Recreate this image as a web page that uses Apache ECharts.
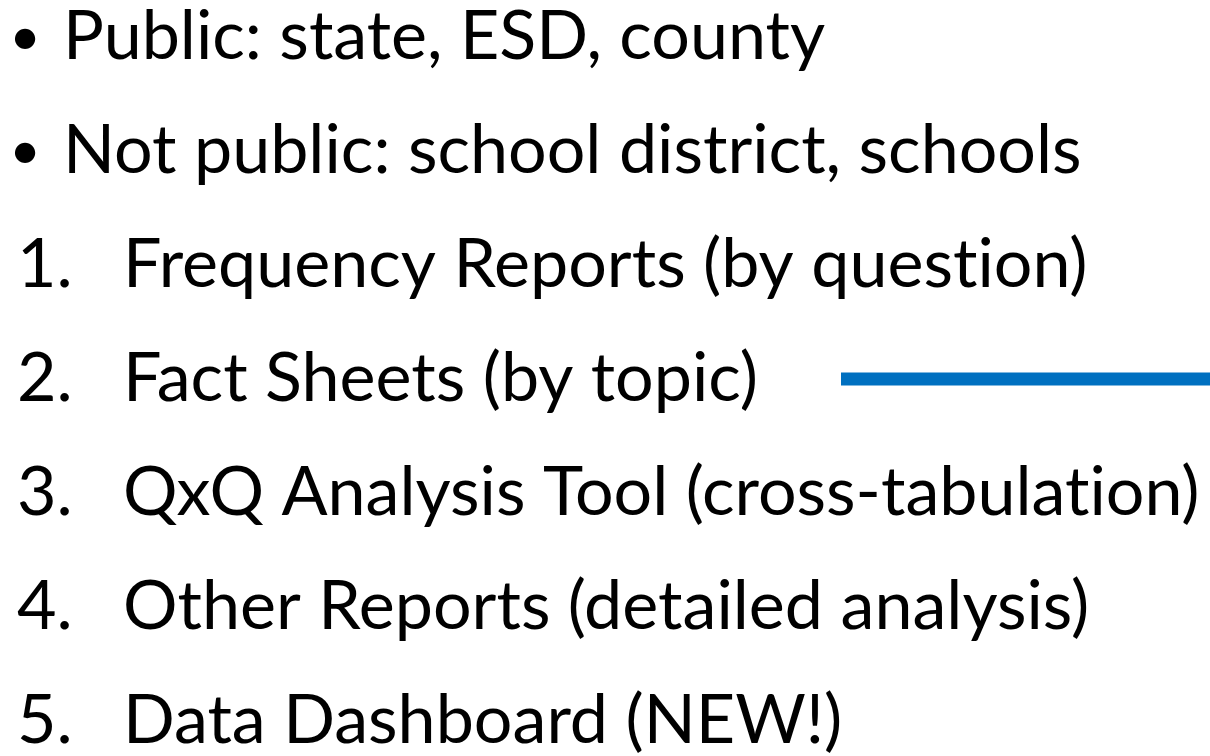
<!DOCTYPE html>
<html>
<head>
<meta charset="utf-8">
<script src="https://cdn.jsdelivr.net/npm/echarts@6/dist/echarts.min.js"></script>
<style>
  html, body { margin: 0; padding: 0; background: #fff; }
  #slide { width: 1210px; height: 756px; }
</style>
</head>
<body>
<div id="slide"></div>
<script>
// slide content
var bulletItems = ['Public: state, ESD, county', 'Not public: school district, schools'];
var numberLabels = ['1.', '2.', '3.', '4.', '5.'];
var numberedItems = [
    'Frequency Reports (by question)',
    'Fact Sheets (by topic)',
    'QxQ Analysis Tool (cross-tabulation)',
    'Other Reports (detailed analysis)',
    'Data Dashboard (NEW!)'
];
// the blue connector sits next to this item
var highlightIndex = 1;

var fontFamily = 'Lato';

// how wide each line runs on the original slide (px), used to pick one font size
var bulletWidths = [757, 1029];
var numberedWidths = [979, null, 1079, 955, 709];

function measure(text, size) {
    var ctx = document.createElement('canvas').getContext('2d');
    ctx.font = size + 'px ' + fontFamily;
    return ctx.measureText(text).width;
}
// least squares fit over the lines we know
var num = 0, den = 0;
bulletItems.concat(numberedItems).forEach(function (t, i) {
    var w = bulletWidths.concat(numberedWidths)[i];
    if (w == null) return;
    var m = measure(t, 100);
    num += w * m;
    den += m * m;
});
var fontSize = Math.round(100 * num / den * 10) / 10;

var firstBaseline = 60;
var lineStep = 114;

// keep "ti" as two letters, like the slide font does
function noLig(s) {
    return s.replace(/t(?=i)/g, 't\u200c');
}

var elements = [];
function addText(str, x, row, opts) {
    opts = opts || {};
    var size = opts.size || fontSize;
    elements.push({
        type: 'text',
        x: x,
        y: firstBaseline + row * lineStep - fontSize * 0.33,
        style: {
            text: noLig(str),
            fill: '#000',
            font: size + 'px ' + fontFamily,
            align: opts.align || 'left',
            verticalAlign: 'middle'
        }
    });
}

bulletItems.forEach(function (t, i) {
    addText('\u2022', 25, i, { align: 'center', size: fontSize * 0.8 });
    addText(t, 63, i);
});
numberedItems.forEach(function (t, i) {
    var row = i + bulletItems.length;
    addText(numberLabels[i], 17, row);
    addText(t, 123, row);
});

var lineY = firstBaseline + (highlightIndex + bulletItems.length) * lineStep - 23;
elements.push({
    type: 'line',
    shape: { x1: 841, y1: lineY, x2: 1210, y2: lineY },
    style: { stroke: '#0070C0', lineWidth: 13 }
});

var myChart = echarts.init(document.getElementById('slide'));
myChart.setOption({
    backgroundColor: '#ffffff',
    animation: false,
    graphic: elements
});
</script>
</body>
</html>
